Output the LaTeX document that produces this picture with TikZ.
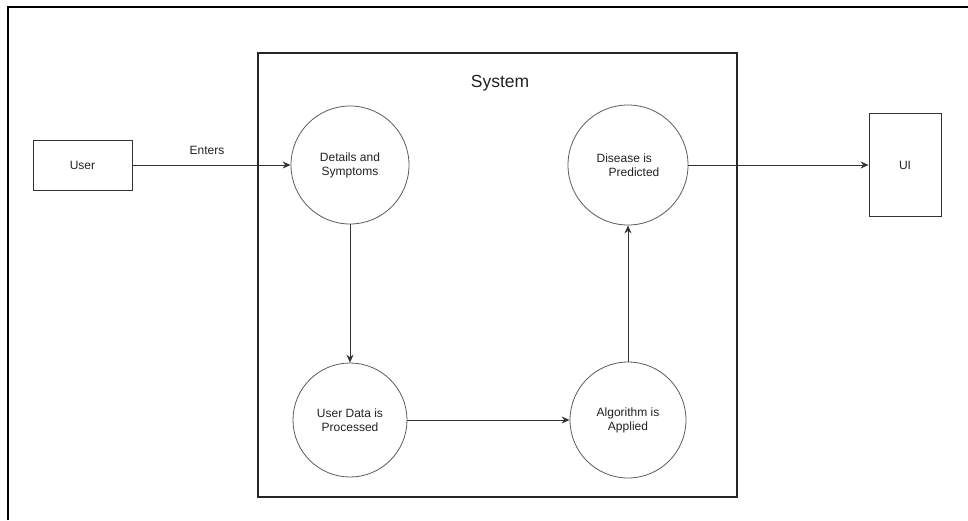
\documentclass[tikz,border=0pt]{standalone}
\usepackage{fontspec}
\setmainfont{Liberation Sans}
\usetikzlibrary{arrows.meta}
\definecolor{linec}{HTML}{333333}
\definecolor{textc}{HTML}{222222}
\tikzset{
  frame/.style={draw=black, line width=1.8pt},
  sysbox/.style={draw=black!85, line width=1.6pt},
  ext/.style={draw=linec, line width=0.9pt, rectangle, inner sep=0pt, text=textc, font=\fontsize{12}{14}\selectfont},
  proc/.style={draw=linec!80, line width=0.8pt, circle, inner sep=0pt, text=textc, align=center, font=\fontsize{12}{14}\selectfont},
  flow/.style={draw=linec, line width=0.9pt, -{Stealth[length=8pt,width=7pt]}},
  lbl/.style={text=textc, inner sep=0pt, font=\fontsize{12}{14}\selectfont}
}
\begin{document}
\begin{tikzpicture}[x=1pt,y=-1pt]
\useasboundingbox (0,0) rectangle (968,520);
\fill[white] (0,0) rectangle (968,520);
\draw[frame] (8,520) -- (8,7) -- (968,7);
\draw[sysbox] (258,53) rectangle (737,497);
\node[lbl, font=\fontsize{17.5}{20}\selectfont] (systitle) at (500,83) {System};
\node[ext, minimum width=99pt, minimum height=50pt] (user) at (82.5,165) {User};
\node[ext, minimum width=72pt, minimum height=103pt] (ui) at (905,165) {UI};
\node[proc, minimum size=118pt] (details) at (350,165) {Details and\\Symptoms};
\node[proc, minimum size=120pt, align=left] (disease) at (628,165) {Disease is\\\hspace*{12pt}Predicted};
\node[proc, minimum size=114pt] (userdata) at (350,420) {User Data is\\Processed};
\node[proc, minimum size=116pt] (algo) at (628,420) {Algorithm is\\Applied};
\draw[flow] (user.east) -- (details.west);
\node[lbl] (enters) at (207,150) {Enters};
\draw[flow] (details.south) -- (userdata.north);
\draw[flow] (userdata.east) -- (algo.west);
\draw[flow] (algo.north) -- (disease.south);
\draw[flow] (disease.east) -- (ui.west);
\end{tikzpicture}
\end{document}
